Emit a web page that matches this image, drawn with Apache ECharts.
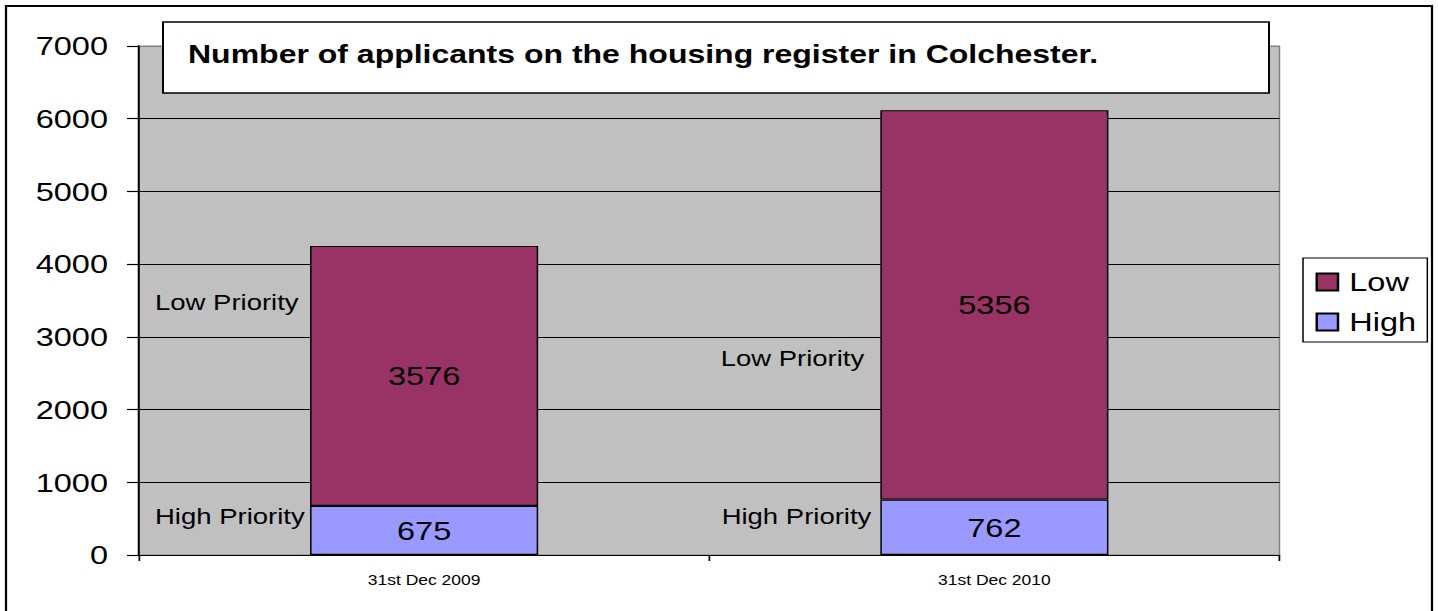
<!DOCTYPE html>
<html>
<head>
<meta charset="utf-8">
<title>Housing register applicants, Colchester</title>
<script src="https://cdn.jsdelivr.net/npm/echarts@6/dist/echarts.min.js"></script>
<style>
  html, body { margin: 0; padding: 0; background: #ffffff; overflow: hidden; }
  /* the chart is laid out narrow and widened horizontally, giving the broad lettering */
  #chart { width: 1150.4px; height: 611px; transform: scaleX(1.25); transform-origin: 0 0; }
</style>
</head>
<body>
<div id="chart"></div>
<script>
const categories = ['31st Dec 2009', '31st Dec 2010'];
const lowPriority = [3576, 5356];
const highPriority = [675, 762];
const seriesNames = ['Low', 'High'];
const yTicks = [0, 1000, 2000, 3000, 4000, 5000, 6000, 7000];
const titleText = 'Number of applicants on the housing register in Colchester.';

const FONT = '"Liberation Sans", Arial, Helvetica, sans-serif';
const chart = echarts.init(document.getElementById('chart'), null, { renderer: 'svg' });

// split lines: black inside the plot, grey along the top edge
const splitColors = yTicks.map((t, i) => (i === yTicks.length - 1 ? '#808080' : '#000000'));

const barLabel = {
  show: true,
  position: 'inside',
  color: '#000000',
  fontFamily: FONT,
  fontSize: 26
};

chart.setOption({
  backgroundColor: '#ffffff',
  animation: false,
  title: {
    text: titleText,
    left: 150.4,
    top: 54,
    padding: 0,
    z: 80,
    textVerticalAlign: 'middle',
    textStyle: {
      fontFamily: FONT,
      fontWeight: 'bold',
      fontSize: 25.6,
      color: '#000000',
      lineHeight: 30
    }
  },
  legend: {
    orient: 'vertical',
    left: 1042.4,
    top: 258,
    data: seriesNames,
    itemWidth: 17,
    itemHeight: 17,
    itemGap: 10,
    icon: 'rect',
    padding: [9, 9, 5, 10],
    backgroundColor: '#ffffff',
    borderColor: '#000000',
    borderWidth: 1.2,
    textStyle: {
      fontFamily: FONT,
      fontSize: 26,
      color: '#000000',
      lineHeight: 30,
      padding: [0, 0, 0, 4]
    }
  },
  grid: {
    left: 111.2,
    right: 126.4,
    top: 46,
    bottom: 56,
    show: true,
    backgroundColor: '#C0C0C0',
    borderColor: '#808080',
    borderWidth: 1.2,
    containLabel: false
  },
  xAxis: {
    type: 'category',
    data: categories,
    boundaryGap: true,
    axisLine: { show: true, lineStyle: { color: '#000000', width: 1.2 } },
    axisTick: { show: true, alignWithLabel: false, length: 6, lineStyle: { color: '#000000', width: 1.4 } },
    axisLabel: { fontFamily: FONT, fontSize: 14, color: '#000000', margin: 18 },
    splitLine: { show: false },
    z: 5
  },
  yAxis: {
    type: 'value',
    min: 0,
    max: 7000,
    interval: 1000,
    axisLine: { show: true, lineStyle: { color: '#000000', width: 1.6 } },
    axisTick: { show: true, inside: false, length: 9.6, lineStyle: { color: '#000000', width: 1.2 } },
    axisLabel: {
      fontFamily: FONT, fontSize: 26, color: '#000000', margin: 24.8,
      formatter: (v) => String(v)
    },
    splitLine: { show: true, lineStyle: { color: splitColors, width: 1.2 } }
  },
  series: [
    {
      name: 'High',
      type: 'bar',
      stack: 'applicants',
      data: highPriority,
      barWidth: '40%',
      itemStyle: { color: '#9999FF', borderColor: '#000000', borderWidth: 1.2 },
      label: barLabel,
      z: 3
    },
    {
      name: 'Low',
      type: 'bar',
      stack: 'applicants',
      data: lowPriority,
      barWidth: '40%',
      itemStyle: { color: '#993366', borderColor: '#000000', borderWidth: 1.2 },
      label: barLabel,
      z: 3
    }
  ],
  graphic: [
    // frame round the whole chart
    {
      type: 'rect',
      shape: { x: 4.8, y: 6, width: 1140.8, height: 620 },
      style: { fill: 'none', stroke: '#000000', lineWidth: 1.8 },
      z: 100,
      silent: true
    },
    // box behind the title
    {
      type: 'rect',
      shape: { x: 130.4, y: 22, width: 884.8, height: 71 },
      style: { fill: '#ffffff', stroke: '#000000', lineWidth: 1.6 },
      z: 50,
      silent: true
    },
    // priority captions beside the bars
    {
      type: 'text',
      left: 124, top: 304 - 13,
      style: { text: 'Low Priority', font: '22px ' + FONT, fill: '#000000' },
      z: 60
    },
    {
      type: 'text',
      left: 124, top: 518 - 13,
      style: { text: 'High Priority', font: '22px ' + FONT, fill: '#000000' },
      z: 60
    },
    {
      type: 'text',
      left: 576.5, top: 360 - 13,
      style: { text: 'Low Priority', font: '22px ' + FONT, fill: '#000000' },
      z: 60
    },
    {
      type: 'text',
      left: 577.3, top: 518 - 13,
      style: { text: 'High Priority', font: '22px ' + FONT, fill: '#000000' },
      z: 60
    }
  ]
});
</script>
</body>
</html>
